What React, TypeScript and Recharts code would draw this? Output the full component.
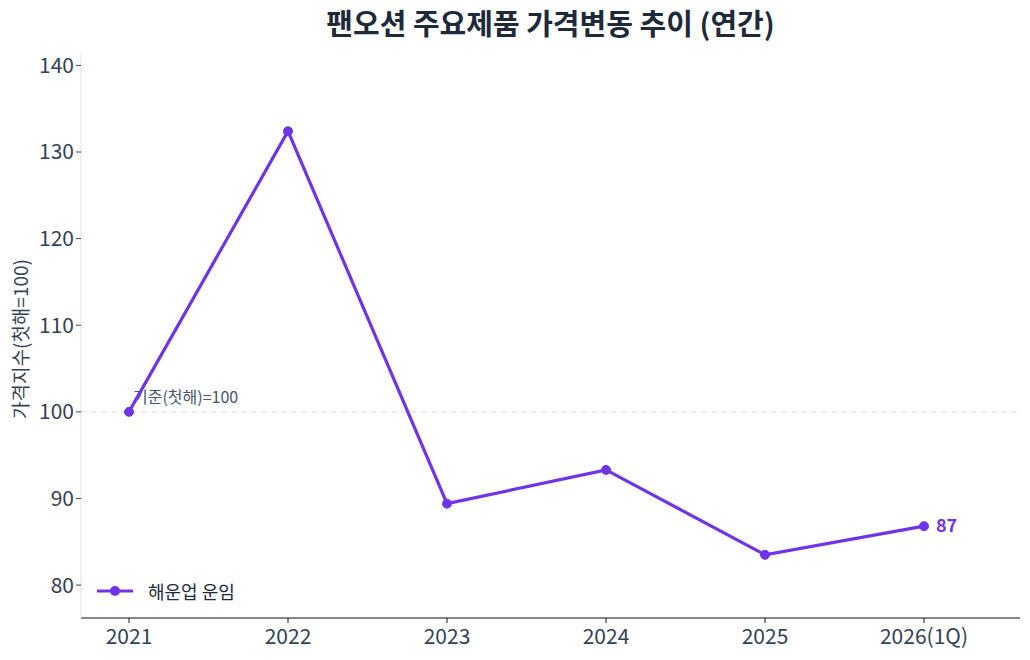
import React from "react";
import { LineChart, Line, XAxis, YAxis, ReferenceLine, LabelList } from "recharts";

const categories = ["2021", "2022", "2023", "2024", "2025", "2026(1Q)"];
const freightValues = [100, 132.4, 89.4, 93.3, 83.5, 86.8];
const yTicks = [80, 90, 100, 110, 120, 130, 140];
const seriesName = "해운업 운임";
const endLabel = "87";

const data = categories.map((c, i) => ({ year: c, value: freightValues[i] }));

const FONT = '"Noto Sans CJK KR", "Noto Sans", sans-serif';
const LINE = "#7034e8";
const TEXT = "#334155";

export default function App() {
  return (
    <div style={{ position: "absolute", left: 0, top: 0, width: 1030, height: 660, background: "#fff", fontFamily: FONT }}>
      <div
        style={{
          position: "absolute",
          left: 81,
          width: 939,
          top: 0,
          textAlign: "center",
          fontSize: 29,
          fontWeight: 700,
          color: "#1e293b",
          lineHeight: "44px",
        }}
      >
        팬오션 주요제품 가격변동 추이 (연간)
      </div>
      <div
        style={{
          position: "absolute",
          left: 19,
          top: 339,
          transform: "translate(-50%, -50%) rotate(-90deg)",
          whiteSpace: "nowrap",
          fontSize: 19,
          color: TEXT,
        }}
      >
        가격지수(첫해=100)
      </div>
      <LineChart width={1030} height={660} data={data} margin={{ top: 55, right: 10, bottom: 12, left: 21 }}>
        <XAxis
          dataKey="year"
          padding={{ left: 48, right: 96 }}
          height={30}
          axisLine={{ stroke: "#111" }}
          tickLine={{ stroke: "#111" }}
          tickSize={5}
          tickMargin={6}
          tick={{ fill: TEXT, fontSize: 21, fontFamily: FONT }}
        />
        <YAxis
          domain={[76.2, 141.2]}
          ticks={yTicks}
          width={60}
          allowDataOverflow
          axisLine={{ stroke: "#dcdfe4" }}
          tickLine={{ stroke: "#444" }}
          tickSize={5}
          tick={{ fill: TEXT, fontSize: 21, fontFamily: FONT }}
        />
        <ReferenceLine
          y={100}
          stroke="#e2e8f0"
          strokeWidth={1.5}
          strokeDasharray="6 4"
          label={(props: any) => {
            const vb = props.viewBox || {};
            return (
              <text x={vb.x + 52} y={vb.y - 9} fill="#475569" fontSize={16} fontFamily={FONT}>
                기준(첫해)=100
              </text>
            );
          }}
        />
        <Line
          type="linear"
          dataKey="value"
          name={seriesName}
          stroke={LINE}
          strokeWidth={3.2}
          dot={{ r: 4.5, fill: LINE, stroke: LINE, strokeWidth: 1 }}
          activeDot={false}
          isAnimationActive={false}
        >
          <LabelList
            dataKey="value"
            content={(p: any) =>
              p.index === categories.length - 1 ? (
                <text x={p.x + 12} y={p.y} dy={6} fill={LINE} fontSize={18} fontWeight={700} fontFamily={FONT}>
                  {endLabel}
                </text>
              ) : null
            }
          />
        </Line>
      </LineChart>
      <div
        style={{
          position: "absolute",
          left: 95,
          top: 578,
          display: "flex",
          alignItems: "center",
          fontSize: 18,
          color: "#1e293b",
        }}
      >
        <svg width={40} height={14} style={{ marginRight: 13 }}>
          <line x1={2} y1={7} x2={38} y2={7} stroke={LINE} strokeWidth={3} />
          <circle cx={20} cy={7} r={5} fill={LINE} />
        </svg>
        <span>{seriesName}</span>
      </div>
    </div>
  );
}
